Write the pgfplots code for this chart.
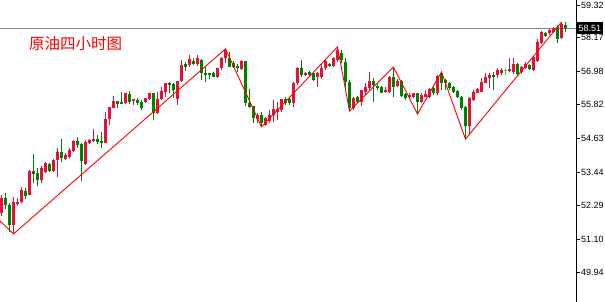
\documentclass[border=0pt]{standalone}
\usepackage{fontspec}
\setmainfont{Liberation Sans}
\newfontfamily\cjk{Noto Sans CJK SC}
\usepackage{pgfplots}
\pgfplotsset{compat=1.18}
\usepackage{pgfplotstable}
\definecolor{upc}{RGB}{220,20,60}
\definecolor{dnc}{RGB}{0,128,0}
\definecolor{dojic}{RGB}{0,255,0}
\definecolor{pline}{RGB}{119,136,153}

\pgfplotstableread{
x o h l c
0 52.01 52.65 51.91 52.54
3 51.59 52.58 51.28 52.40
4 52.33 52.54 52.26 52.40
5 52.40 52.93 52.37 52.82
7 52.66 53.51 52.65 53.49
10 53.17 53.66 53.07 53.59
11 53.45 53.79 53.42 53.77
13 53.49 53.91 53.45 53.88
14 53.88 54.30 53.28 54.16
16 53.91 54.12 53.88 54.05
17 53.98 54.30 53.95 54.23
18 54.19 54.58 54.16 54.54
21 53.73 54.58 53.70 54.51
22 54.47 54.61 54.44 54.58
23 54.54 54.96 54.51 54.61
26 54.47 55.56 54.46 55.32
27 55.32 55.75 55.11 55.74
28 55.70 56.12 55.69 55.95
31 55.88 56.24 55.84 56.23
33 55.95 56.03 55.81 56.02
36 55.91 56.06 55.88 56.05
37 56.02 56.24 55.98 56.23
39 55.53 56.26 55.49 56.02
40 56.02 56.44 55.98 56.30
41 56.26 56.59 56.09 56.58
44 56.02 56.66 55.81 56.65
45 56.65 57.39 56.62 57.21
47 57.21 57.56 57.14 57.42
49 57.25 57.56 57.18 57.46
54 56.79 57.12 56.76 57.11
55 57.11 57.49 57.04 57.46
56 57.46 57.78 57.28 57.74
60 57.07 57.39 57.04 57.35
64 55.32 55.53 55.18 55.46
66 55.11 55.39 55.07 55.35
67 55.25 55.63 55.18 55.46
68 55.46 55.98 55.21 55.67
69 55.56 55.91 55.28 55.67
70 55.63 56.03 55.56 56.02
73 55.88 56.62 55.74 56.58
74 56.58 57.14 56.51 57.11
76 56.86 56.97 56.83 56.93
79 56.79 56.97 56.44 56.93
80 56.79 57.25 56.72 57.11
81 57.11 57.42 57.04 57.35
83 57.18 57.49 57.14 57.46
84 57.39 57.85 57.32 57.74
88 55.70 56.09 55.63 56.05
90 55.91 56.34 55.77 56.33
91 56.26 56.58 56.16 56.44
92 56.40 56.97 56.33 56.65
96 56.26 56.44 56.23 56.33
97 56.26 56.83 56.23 56.79
99 56.48 56.72 56.44 56.65
102 56.09 56.23 56.05 56.16
103 56.09 56.24 56.05 56.23
105 55.91 56.23 55.88 56.16
106 56.09 56.33 56.08 56.19
107 56.09 56.40 56.05 56.37
109 56.23 56.86 56.16 56.83
117 55.07 56.09 54.75 56.05
118 55.98 56.33 55.95 56.26
119 56.23 56.40 56.22 56.37
120 56.26 56.76 56.25 56.62
121 56.58 56.93 56.57 56.79
122 56.76 56.93 56.40 56.86
124 56.86 57.11 56.76 57.04
125 56.93 57.11 56.86 57.04
127 57.00 57.46 56.97 57.07
128 56.97 57.46 56.90 57.25
130 56.97 57.18 56.90 57.14
131 57.11 57.32 57.07 57.25
133 57.04 57.53 57.00 57.49
134 57.35 58.13 57.32 58.02
135 57.99 58.41 57.95 58.37
137 58.34 58.48 58.27 58.44
138 58.37 58.55 58.34 58.51
140 58.16 58.72 58.13 58.65
}\upt

\pgfplotstableread{
x o h l c
1 52.54 52.72 52.15 52.29
2 52.29 52.37 51.35 51.59
6 52.79 52.89 52.51 52.61
8 53.49 54.09 53.07 53.38
9 53.42 53.59 52.96 53.17
12 53.73 53.77 53.45 53.49
15 54.16 54.61 53.81 53.95
19 54.54 54.68 54.30 54.40
20 54.44 54.47 53.14 53.84
24 54.61 54.75 54.44 54.51
25 54.54 54.86 54.30 54.47
29 55.95 55.96 55.70 55.84
30 55.91 56.26 55.83 55.84
32 56.19 56.30 55.84 55.91
34 55.98 56.05 55.81 55.88
35 55.91 55.98 55.63 55.70
38 56.23 56.24 55.28 55.53
42 56.58 56.62 56.23 56.51
43 56.55 56.58 56.05 56.33
46 57.25 57.32 57.00 57.14
48 57.35 57.46 57.21 57.25
50 57.39 57.42 56.69 56.93
51 56.93 57.14 56.62 56.86
52 56.93 56.94 56.72 56.86
53 56.93 56.97 56.78 56.79
57 57.46 57.67 57.13 57.14
58 57.28 57.35 57.11 57.14
59 57.18 57.25 56.97 57.11
61 57.35 57.36 55.77 55.88
62 55.88 56.37 55.70 55.74
63 55.77 55.78 55.18 55.35
65 55.46 55.56 55.04 55.18
71 56.02 56.09 55.81 55.88
72 56.02 56.05 55.81 55.88
75 57.11 57.39 56.79 56.86
77 56.97 57.00 56.83 56.86
78 56.93 56.94 56.65 56.69
82 57.25 57.28 57.14 57.18
85 57.63 57.74 57.28 57.39
86 57.32 57.46 56.40 56.62
87 56.62 56.69 55.60 55.70
89 56.09 56.12 55.88 55.91
93 56.65 56.76 55.91 56.51
94 56.48 56.55 56.33 56.40
95 56.44 56.48 56.22 56.23
98 56.79 57.14 56.09 56.44
100 56.65 56.69 56.09 56.12
101 56.19 56.23 55.98 56.05
104 56.23 56.24 55.49 55.91
108 56.40 56.44 56.16 56.23
110 56.93 56.97 56.33 56.58
111 56.69 56.72 56.33 56.58
112 56.58 56.62 56.33 56.40
113 56.44 56.48 56.23 56.26
114 56.30 56.33 56.05 56.09
115 56.09 56.12 55.63 55.70
116 55.74 55.77 54.61 55.07
123 56.86 56.97 56.33 56.79
129 57.25 57.28 56.83 56.90
132 57.21 57.25 57.04 57.07
136 58.34 58.37 58.20 58.23
139 58.55 58.62 57.99 58.13
141 58.62 58.72 58.37 58.51
}\dnt

\pgfplotstableread{
x o h l c
126 57.03 57.11 56.86 57.01
}\djt

\pgfplotsset{
  candle/.style 2 args={only marks, mark=*, mark size=0pt,
    mark options={draw=none, fill=none},
    error bars/.cd, y dir=plus, y explicit, error mark=none,
    error bar style={#1, line width=#2}},
}

\begin{document}
\begin{tikzpicture}
\begin{axis}[
  scale only axis, width=576pt, height=310pt,
  xmin=-0.375, xmax=143.625, ymin=48.607, ymax=59.496,
  axis x line=none, axis y line*=right,
  axis line style={-, black, line width=0.8pt},
  xtick=\empty,
  ytick={48.75,49.94,51.10,52.29,53.44,54.63,55.82,56.98,58.17,59.32},
  yticklabels={48.75,49.94,51.10,52.29,53.44,54.63,55.82,56.98,58.17,59.32},
  tick align=outside, major tick length=4pt,
  tick style={black, line width=0.8pt},
  yticklabel style={font=\fontsize{9}{10}\selectfont, inner sep=1pt},
  clip=true,
]
\addplot[pline, line width=0.8pt] coordinates {(-1,58.51) (145,58.51)};
% wicks
\addplot[candle={upc}{1pt}] table[x=x, y=l, y error expr=\thisrow{h}-\thisrow{l}] {\upt};
\addplot[candle={dnc}{1pt}] table[x=x, y=l, y error expr=\thisrow{h}-\thisrow{l}] {\dnt};
\addplot[candle={dojic}{1pt}] table[x=x, y=l, y error expr=\thisrow{h}-\thisrow{l}] {\djt};
% bodies
\addplot[candle={upc}{3pt}] table[x=x, y=o, y error expr=\thisrow{c}-\thisrow{o}] {\upt};
\addplot[candle={dnc}{3pt}] table[x=x, y=c, y error expr=\thisrow{o}-\thisrow{c}] {\dnt};
\addplot[candle={dojic}{3pt}] table[x=x, y=c, y error expr=\thisrow{o}-\thisrow{c}] {\djt};
% zigzag
\addplot[red, line width=0.9pt] coordinates {
(-1,51.82) (3,51.28) (56,57.78) (65,55.04) (84,57.85) (87,55.60)
(98,57.14) (104,55.49) (110,56.97) (116,54.61) (140,58.72)};
\coordinate (pb) at (axis cs:143.625,58.51);
\end{axis}
\node[fill=black, text=white, anchor=west, inner xsep=1.5pt, inner ysep=0pt,
  minimum height=12pt, font=\fontsize{9}{10}\selectfont] at ([xshift=1pt]pb) {58.51};
\node[anchor=west, text=red, inner sep=0pt, font=\cjk\fontsize{15.5}{16}\selectfont]
  at ([xshift=29pt, yshift=-43.5pt]current axis.north west) {原油四小时图};
\pgfresetboundingbox
\path[use as bounding box] ([yshift=8pt]current axis.south west) rectangle ([xshift=29pt]current axis.north east);
\end{tikzpicture}
\end{document}
